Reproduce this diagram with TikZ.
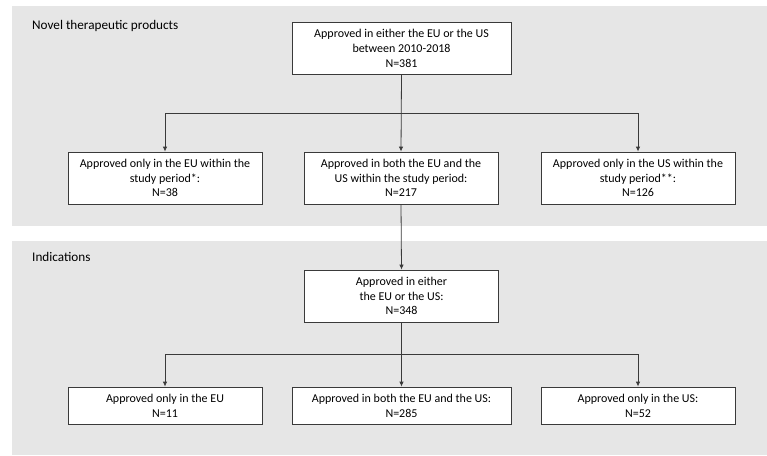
\documentclass[tikz,border=0pt]{standalone}
\usepackage{fontspec}
\setmainfont{Carlito}
\usetikzlibrary{arrows.meta}

\definecolor{panelgray}{HTML}{E6E6E6}
\definecolor{linegray}{HTML}{3A3A3A}

\tikzset{
  panel/.style={fill=panelgray, draw=none},
  flowbox/.style={draw=linegray, line width=0.8pt, fill=white, align=center,
    inner sep=0pt, minimum width=194pt, minimum height=52pt,
    font=\fontsize{12}{14.8}\selectfont},
  widebox/.style={flowbox, minimum width=219pt},
  flatbox/.style={flowbox, minimum height=37pt},
  paneltitle/.style={anchor=west, inner sep=0pt, font=\fontsize{13.2}{15}\selectfont},
  flowarrow/.style={draw=linegray, line width=0.8pt, -{Latex[length=5pt,width=4.5pt]}}
}

\begin{document}
\begin{tikzpicture}[x=1pt, y=-1pt]
    % --- canvas and panels ---
    \useasboundingbox (0,0) rectangle (767,455);
    \fill[white] (0,0) rectangle (767,455);
    \fill[panel] (12,6) rectangle (767,226);
    \fill[panel] (12,241) rectangle (767,455);

    \node[paneltitle] (titleprod) at (32,26) {Novel therapeutic products};
    \node[paneltitle] (titleind) at (32,257) {Indications};

    % --- products ---
    \node[widebox] (prodall) at (401.5,48.5)
      {Approved in either the EU or the US\\between 2010-2018\\N=381};
    \node[flowbox] (prodeu) at (165,178)
      {Approved only in the EU within the\\study period*:\\N=38};
    \node[flowbox] (prodboth) at (401,178)
      {Approved in both the EU and the\\US within the study period:\\N=217};
    \node[flowbox] (produs) at (638,178)
      {Approved only in the US within the\\study period**:\\N=126};

    % --- indications ---
    \node[flowbox] (indall) at (401.5,296)
      {Approved in either\\the EU or the US:\\N=348};
    \node[flatbox] (indeu) at (165,405.5)
      {Approved only in the EU\\N=11};
    \node[flatbox, minimum width=219pt] (indboth) at (401.5,405.5)
      {Approved in both the EU and the US:\\N=285};
    \node[flatbox] (indus) at (638,405.5)
      {Approved only in the US:\\N=52};

    % --- connectors ---
    \coordinate (prodsplit) at (prodall.south |- 0,113.7);
    \coordinate (indsplit) at (indall.south |- 0,354.7);

    \draw[flowarrow] (prodall.south) -- (prodboth.north);
    \draw[flowarrow] (prodsplit) -| (prodeu.north);
    \draw[flowarrow] (prodsplit) -| (produs.north);

    \draw[flowarrow] (prodboth.south) -- (indall.north);

    \draw[flowarrow] (indall.south) -- (indboth.north);
    \draw[flowarrow] (indsplit) -| (indeu.north);
    \draw[flowarrow] (indsplit) -| (indus.north);
\end{tikzpicture}
\end{document}
